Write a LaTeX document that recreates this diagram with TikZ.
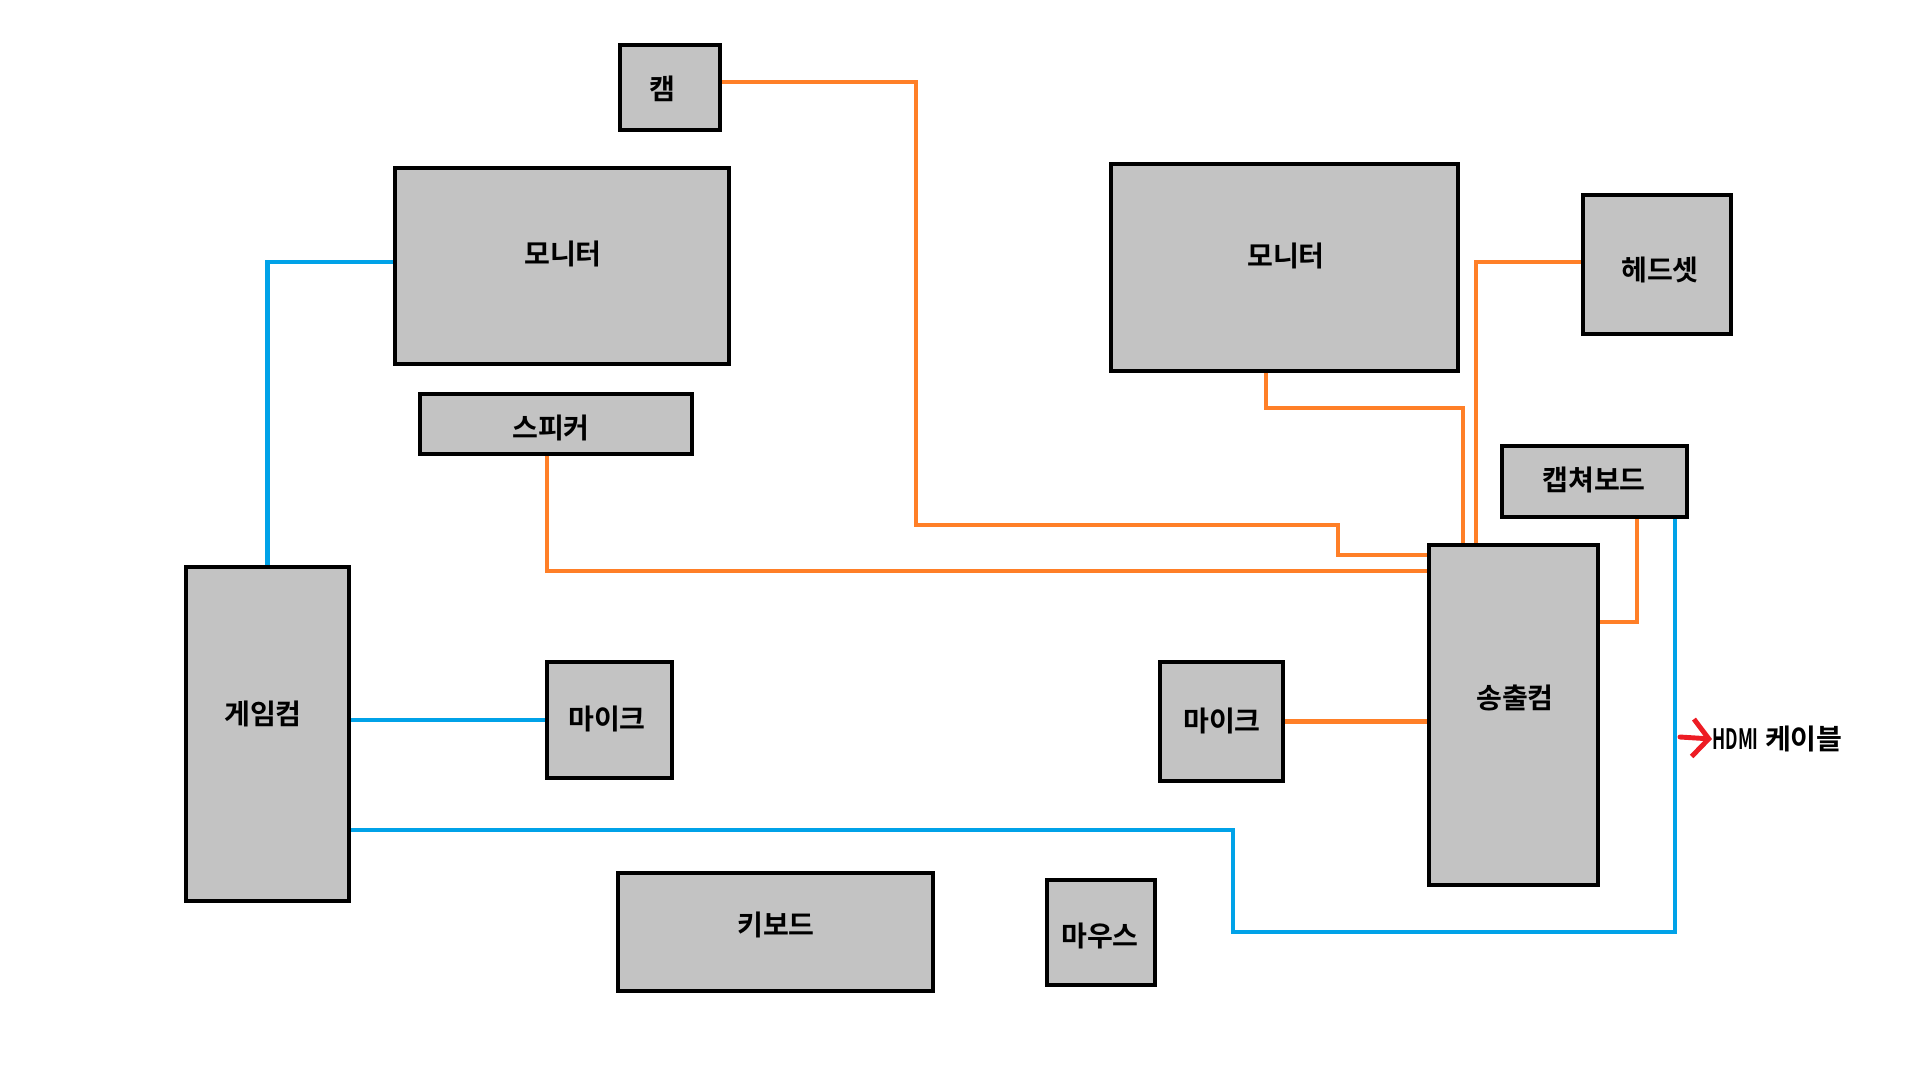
\documentclass[tikz,border=0pt]{standalone}
\usepackage{fontspec}
\setmainfont{Noto Sans CJK KR}[BoldFont={Noto Sans CJK KR Bold}]
\usetikzlibrary{arrows.meta}

\definecolor{boxgray}{RGB}{195,195,195}
\definecolor{wireorange}{RGB}{255,127,39}
\definecolor{wireblue}{RGB}{0,162,232}
\definecolor{markred}{RGB}{237,28,36}

\begin{document}
\begin{tikzpicture}[
    x=0.02cm, y=-0.02cm,
    device/.style 2 args={rectangle, draw=black, line width=2.7pt, fill=boxgray, inner sep=0pt, minimum width=#1*0.02cm, minimum height=#2*0.02cm},
    tag/.style={font=\fontsize{16pt}{19pt}\selectfont\bfseries, inner sep=0pt},
    owire/.style={wireorange, line width=2.6pt},
    bwire/.style={wireblue, line width=2.6pt},
    hint/.style={markred, line width=2.8pt, line cap=round, -{Straight Barb[length=0.32cm, width=0.75cm]}}
]
\useasboundingbox (0,0) rectangle (1920,1080);

% Devices
\node (cam) [device={100}{85}] at (670,87.5) {};
\node (monL) [device={334}{196}] at (562,266) {};
\node (spk) [device={272}{60}] at (556,424) {};
\node (game) [device={163}{334}] at (267.5,734) {};
\node (micL) [device={125}{116}] at (609.5,720) {};
\node (kbd) [device={315}{118}] at (775.5,932) {};
\node (mouse) [device={108}{105}] at (1101,932.5) {};
\node (monR) [device={347}{207}] at (1284.5,267.5) {};
\node (head) [device={148}{139}] at (1657,264.5) {};
\node (cap) [device={185}{71}] at (1594.5,481.5) {};
\node (send) [device={169}{340}] at (1513.5,715) {};
\node (micR) [device={123}{119}] at (1221.5,721.5) {};

% Labels
\node (camtag) [tag] at (662,89) {캠};
\node (monLtag) [tag] at (563,254) {모니터};
\node (spktag) [tag] at (551,428) {스피커};
\node (gametag) [tag] at (263,714) {게임컴};
\node (micLtag) [tag] at (607,719) {마이크};
\node (kbdtag) [tag] at (776,925) {키보드};
\node (mousetag) [tag] at (1100,936) {마우스};
\node (monRtag) [tag] at (1286,256) {모니터};
\node (headtag) [tag] at (1660,270) {헤드셋};
\node (captag) [tag] at (1594,480) {캡쳐보드};
\node (sendtag) [tag] at (1515,698) {송출컴};
\node (micRtag) [tag] at (1222,721) {마이크};
\node (hdmi) [tag, anchor=west] at (1712,739) {\scalebox{0.62}[1]{HDMI} 케이블};

% Orange wires
\draw [owire] (cam.east |- 0,82) -- (916,82) |- (1338,525) |- (send.west |- 0,555);
\draw [owire] (spk.south -| 547,0) |- (send.west |- 0,571);
\draw [owire] (monR.south -| 1266,0) -- (1266,408) -| (send.north -| 1463,0);
\draw [owire] (head.west |- 0,262) -| (send.north -| 1476,0);
\draw [owire] (send.east |- 0,622) -| (cap.south -| 1637,0);
\draw [owire] (micR.east) -- (send.west |- micR.east);

% Blue wires
\draw [bwire] (monL.west |- 0,262) -| (game.north);
\draw [bwire] (game.east |- micL.west) -- (micL.west);
\draw [bwire] (game.east |- 0,830) -- (1233,830) |- (1675,932) -- (cap.south -| 1675,0);

% HDMI note
\coordinate (tap) at (1680,737);
\draw [hint] (tap) -- (hdmi.west);

\end{tikzpicture}
\end{document}
